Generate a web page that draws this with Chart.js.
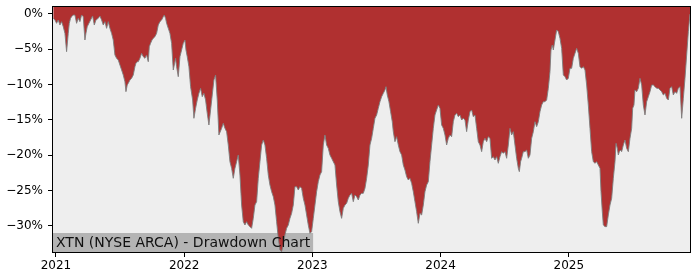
<!DOCTYPE html>
<html>
<head>
<meta charset="utf-8">
<script src="https://cdn.jsdelivr.net/npm/chart.js@4.4.0/dist/chart.umd.min.js"></script>
<style>
  html, body { margin: 0; padding: 0; background: #fff; }
  #wrap { width: 700px; height: 280px; }
</style>
</head>
<body>
<div id="wrap"><canvas id="chart" width="700" height="280"></canvas></div>
<script>
// drawdown data (x = fractional year, y = % below peak)
const dates = [
  2020.979, 2020.992, 2021.005, 2021.018, 2021.031, 2021.044, 2021.057, 2021.070, 2021.083, 2021.096,
  2021.104, 2021.114, 2021.122, 2021.135, 2021.148, 2021.161, 2021.174, 2021.187, 2021.200, 2021.213,
  2021.226, 2021.234, 2021.244, 2021.257, 2021.270, 2021.286, 2021.299, 2021.312, 2021.330, 2021.343,
  2021.356, 2021.369, 2021.382, 2021.395, 2021.408, 2021.421, 2021.434, 2021.447, 2021.460, 2021.473,
  2021.486, 2021.499, 2021.512, 2021.525, 2021.538, 2021.546, 2021.556, 2021.564, 2021.577, 2021.590,
  2021.603, 2021.616, 2021.624, 2021.634, 2021.642, 2021.655, 2021.668, 2021.681, 2021.694, 2021.707,
  2021.720, 2021.728, 2021.738, 2021.749, 2021.759, 2021.772, 2021.785, 2021.798, 2021.811, 2021.824,
  2021.837, 2021.845, 2021.855, 2021.863, 2021.876, 2021.889, 2021.902, 2021.915, 2021.923, 2021.933,
  2021.941, 2021.954, 2021.967, 2021.980, 2021.993, 2022.006, 2022.014, 2022.024, 2022.037, 2022.050,
  2022.066, 2022.076, 2022.089, 2022.102, 2022.115, 2022.128, 2022.141, 2022.154, 2022.167, 2022.180,
  2022.193, 2022.206, 2022.219, 2022.232, 2022.245, 2022.258, 2022.271,
  2022.292, 2022.305, 2022.318, 2022.331, 2022.344, 2022.357, 2022.370, 2022.383, 2022.396, 2022.409,
  2022.422, 2022.435, 2022.448, 2022.461, 2022.474, 2022.487, 2022.500, 2022.513, 2022.526, 2022.539,
  2022.552, 2022.565, 2022.578, 2022.591, 2022.604, 2022.617, 2022.630, 2022.643, 2022.656, 2022.669,
  2022.682, 2022.695, 2022.708, 2022.721, 2022.734, 2022.747, 2022.760, 2022.773, 2022.786, 2022.799,
  2022.812, 2022.825, 2022.838, 2022.851, 2022.864, 2022.877, 2022.890, 2022.903, 2022.916, 2022.929,
  2022.942, 2022.955, 2022.968, 2022.981, 2022.994, 2023.007, 2023.020, 2023.033, 2023.046, 2023.059,
  2023.072, 2023.085, 2023.098, 2023.111, 2023.124, 2023.137, 2023.150, 2023.163, 2023.176, 2023.189,
  2023.202, 2023.215, 2023.228, 2023.241, 2023.254, 2023.267, 2023.280, 2023.293, 2023.306, 2023.319,
  2023.332, 2023.345, 2023.358, 2023.371, 2023.384, 2023.397, 2023.410, 2023.423, 2023.436, 2023.449,
  2023.462, 2023.475, 2023.488, 2023.501, 2023.514, 2023.527,
  2023.540, 2023.553, 2023.566, 2023.574, 2023.584, 2023.597, 2023.610, 2023.623, 2023.631, 2023.644,
  2023.657, 2023.670, 2023.683, 2023.696, 2023.709, 2023.722, 2023.735, 2023.748, 2023.761, 2023.774,
  2023.787, 2023.800, 2023.813, 2023.826, 2023.839, 2023.852, 2023.865, 2023.878, 2023.891, 2023.904,
  2023.917, 2023.930, 2023.943, 2023.956, 2023.969, 2023.982, 2023.995, 2024.008, 2024.021, 2024.034,
  2024.047, 2024.060, 2024.073, 2024.086, 2024.099, 2024.112, 2024.125, 2024.138, 2024.151, 2024.164,
  2024.177, 2024.190, 2024.203, 2024.216, 2024.229, 2024.242, 2024.255, 2024.268, 2024.281, 2024.294,
  2024.307, 2024.320, 2024.333, 2024.346, 2024.359, 2024.372, 2024.385,
  2024.398, 2024.411, 2024.424, 2024.437, 2024.450, 2024.463, 2024.476, 2024.489, 2024.502, 2024.515,
  2024.528, 2024.541, 2024.554, 2024.567, 2024.580, 2024.593, 2024.606, 2024.614, 2024.624, 2024.632,
  2024.645, 2024.658, 2024.671, 2024.684, 2024.697, 2024.710, 2024.723, 2024.736, 2024.749, 2024.762,
  2024.775, 2024.788, 2024.801, 2024.814, 2024.827, 2024.840, 2024.853, 2024.861, 2024.871, 2024.879,
  2024.892, 2024.905, 2024.918, 2024.931, 2024.944, 2024.957, 2024.970, 2024.983, 2024.996, 2025.009,
  2025.022, 2025.035, 2025.048, 2025.061, 2025.074, 2025.087, 2025.100, 2025.113, 2025.126, 2025.139,
  2025.152, 2025.165, 2025.178, 2025.191, 2025.204, 2025.217, 2025.230, 2025.243,
  2025.251, 2025.261, 2025.269, 2025.282, 2025.295, 2025.308, 2025.321, 2025.334, 2025.347, 2025.360,
  2025.368, 2025.378, 2025.386, 2025.394, 2025.404, 2025.412, 2025.425, 2025.438, 2025.451, 2025.464,
  2025.477, 2025.490, 2025.498, 2025.508, 2025.516, 2025.529, 2025.542, 2025.555, 2025.568, 2025.581,
  2025.594, 2025.607, 2025.620, 2025.633, 2025.646, 2025.659, 2025.672, 2025.685, 2025.698, 2025.711,
  2025.724, 2025.737, 2025.750, 2025.763, 2025.776, 2025.789, 2025.802, 2025.815, 2025.828, 2025.841,
  2025.854, 2025.867, 2025.880, 2025.893, 2025.906, 2025.919, 2025.932, 2025.945
];
const drawdown = [
  -0.61, -0.85, -1.32, -0.85, -1.56, -1.08, -1.79, -2.74, -5.33, -2.74,
  -1.32, -0.61, -0.38, -0.14, -0.14, -1.32, -0.61, -1.08, -0.14, -0.38,
  -3.68, -2.74, -1.79, -1.32, -0.85, -0.28, -1.56, -0.85, -0.61, -0.28,
  -0.85, -1.56, -1.08, -2.03, -1.08, -2.03, -2.74, -3.68, -5.80, -6.27,
  -6.51, -7.22, -7.92, -8.63, -9.58, -10.99, -10.05, -9.81, -9.34, -9.10,
  -8.63, -7.45, -6.98, -6.75, -6.75, -6.27, -5.57, -6.04, -6.27, -5.80,
  -6.75, -4.62, -4.15, -3.68, -3.44, -3.21, -2.74, -1.56, -1.08, -0.85,
  -0.38, -0.14, -0.61, -1.32, -2.03, -2.74, -4.15, -7.92, -7.22, -6.27,
  -7.45, -8.87, -6.04, -5.09, -4.15, -3.68, -5.09, -6.04, -7.45, -10.28,
  -12.17, -14.76, -13.35, -12.17, -11.23, -10.52, -11.70, -11.23, -12.17, -14.06,
  -15.71, -13.58, -11.46, -9.34, -8.63, -12.17, -17.12,
  -16.18, -15.47, -16.18, -16.65, -18.54, -20.90, -21.84, -23.25, -21.84, -20.90,
  -19.95, -22.78, -27.03, -29.39, -29.86, -29.39, -29.86, -30.09, -30.33, -28.92,
  -27.03, -26.56, -23.25, -20.90, -18.54, -17.83, -18.54, -20.42, -22.78, -24.20,
  -25.14, -25.85, -27.03, -29.39, -31.75, -33.40, -33.63, -32.69, -31.27, -30.33,
  -29.86, -28.92, -28.21, -27.03, -24.43, -24.43, -24.91, -24.43, -24.67, -26.08,
  -27.03, -28.44, -29.86, -31.04, -30.80, -28.92, -27.03, -25.14, -23.73, -22.78,
  -22.31, -18.54, -17.12, -18.54, -19.01, -19.95, -20.42, -20.90, -21.37, -24.20,
  -26.56, -27.97, -28.92, -27.50, -27.03, -26.79, -26.08, -25.61, -25.38, -26.56,
  -25.61, -25.85, -26.32, -25.61, -25.38, -25.38, -24.67, -23.25, -21.37, -18.54,
  -17.59, -16.18, -14.76, -14.29, -13.35, -12.41,
  -11.70, -11.23, -10.75, -10.28, -11.46, -12.41, -13.82, -15.24, -16.65, -18.07,
  -17.36, -18.54, -19.48, -19.95, -21.37, -22.08, -23.02, -23.49, -23.25, -23.96,
  -25.14, -26.56, -27.97, -29.62, -28.21, -28.44, -27.03, -25.14, -24.20, -23.73,
  -20.90, -18.54, -16.18, -14.29, -13.58, -12.88, -13.35, -15.71, -16.18, -17.12,
  -18.54, -17.59, -17.12, -17.36, -15.24, -14.29, -14.06, -14.53, -14.29, -15.00,
  -14.76, -15.00, -16.65, -15.00, -13.82, -13.58, -14.53, -14.29, -16.18, -18.07,
  -18.54, -19.48, -18.07, -17.59, -18.07, -17.36, -17.59,
  -20.42, -20.19, -20.66, -20.19, -21.13, -20.19, -19.48, -19.72, -19.48, -20.42,
  -18.54, -16.18, -17.12, -16.65, -18.54, -20.42, -21.84, -22.31, -20.90, -20.42,
  -19.48, -19.48, -19.25, -20.42, -19.95, -17.59, -16.65, -15.24, -15.94, -15.24,
  -13.82, -12.88, -12.41, -12.41, -12.17, -10.52, -8.16, -5.09, -4.39, -5.09,
  -3.68, -2.26, -2.50, -3.44, -4.86, -8.63, -8.87, -9.34, -9.10, -7.69,
  -7.69, -6.27, -5.57, -4.86, -5.57, -7.45, -7.69, -7.45, -7.92, -10.05,
  -12.88, -16.18, -19.48, -20.90, -21.13, -20.90, -21.37, -21.84,
  -25.14, -27.97, -29.86, -30.09, -30.09, -28.44, -27.03, -26.08, -23.25, -20.90,
  -18.30, -19.01, -19.95, -19.48, -19.25, -19.48, -18.54, -17.83, -19.01, -19.48,
  -17.59, -16.18, -13.35, -12.88, -10.75, -10.99, -10.52, -9.10, -10.05, -12.88,
  -14.29, -12.41, -11.70, -10.99, -10.05, -10.05, -10.28, -10.52, -10.52, -10.75,
  -10.99, -11.46, -11.23, -11.93, -12.17, -10.52, -10.28, -11.46, -10.99, -11.23,
  -10.52, -10.28, -14.76, -11.93, -9.10, -5.80, -2.50, 0
];
const yTicks = [0, -5, -10, -15, -20, -25, -30];
const xTicks = [2021, 2022, 2023, 2024, 2025];
const chartLabel = 'XTN (NYSE ARCA) - Drawdown Chart';

const points = dates.map((d, i) => ({ x: d, y: drawdown[i] }));

const bgPlugin = {
  id: 'bg',
  beforeDraw(chart){
    const { ctx, chartArea: a } = chart;
    ctx.save();
    ctx.fillStyle = '#ffffff';
    ctx.fillRect(0, 0, chart.width, chart.height);
    ctx.fillStyle = '#eeeeee';
    ctx.fillRect(a.left, a.top, a.right - a.left, a.bottom - a.top);
    ctx.restore();
  },
  beforeDatasetsDraw(chart){
    // grey box goes under the red area
    const { ctx, chartArea: a } = chart;
    ctx.save();
    ctx.font = '14px "DejaVu Sans", sans-serif';
    const w = ctx.measureText(chartLabel).width;
    ctx.fillStyle = '#b4b4b4';
    ctx.fillRect(a.left, a.bottom - 19, w + 6, 19);
    ctx.restore();
  },
  afterDatasetsDraw(chart){
    // text stays on top
    const { ctx, chartArea: a } = chart;
    ctx.save();
    ctx.font = '14px "DejaVu Sans", sans-serif';
    ctx.fillStyle = '#111';
    ctx.textBaseline = 'alphabetic';
    ctx.fillText(chartLabel, a.left + 3, a.bottom - 5);
    ctx.restore();
  },
  afterDraw(chart){
    const { ctx, chartArea: a } = chart;
    ctx.save();
    ctx.strokeStyle = '#000';
    ctx.lineWidth = 1;
    ctx.strokeRect(Math.round(a.left) - 0.5, Math.round(a.top) - 0.5,
      Math.round(a.right - a.left) + 1, Math.round(a.bottom - a.top) + 1);
    ctx.restore();
  }
};

new Chart(document.getElementById('chart'), {
  type: 'line',
  data: {
    datasets: [{
      data: points,
      fill: 'end',
      backgroundColor: '#b03030',
      borderColor: 'rgba(125,125,125,0.9)',
      borderWidth: 1,
      pointRadius: 0,
      tension: 0
    }]
  },
  options: {
    responsive: false,
    animation: false,
    devicePixelRatio: 1,
    layout: { padding: { top: 7, right: 10, left: 0, bottom: 0 } },
    plugins: { legend: { display: false }, tooltip: { enabled: false } },
    scales: {
      x: {
        type: 'linear',
        min: 2020.977,
        max: 2025.945,
        afterFit(s){ s.height = 28; s.paddingLeft = 0; s.paddingRight = 0; },
        afterBuildTicks(s){ s.ticks = xTicks.map(v => ({ value: v })); },
        grid: { drawOnChartArea: false, drawTicks: true, tickLength: 5, color: '#000' },
        border: { display: false },
        ticks: {
          color: '#000', padding: 2, maxRotation: 0, autoSkip: false,
          font: { family: '"DejaVu Sans", sans-serif', size: 12 },
          callback: v => String(v)
        }
      },
      y: {
        min: -33.68,
        max: 0.99,
        afterFit(s){ s.width = 53; s.paddingTop = 0; s.paddingBottom = 0; },
        afterBuildTicks(s){ s.ticks = yTicks.map(v => ({ value: v })); },
        grid: { drawOnChartArea: false, drawTicks: true, tickLength: 5, color: '#000' },
        border: { display: false },
        ticks: {
          color: '#000', padding: 5, autoSkip: false,
          font: { family: '"DejaVu Sans", sans-serif', size: 12 },
          callback: v => (v < 0 ? '\u2212' : '') + Math.abs(v) + '%'
        }
      }
    }
  },
  plugins: [bgPlugin]
});
</script>
</body>
</html>
